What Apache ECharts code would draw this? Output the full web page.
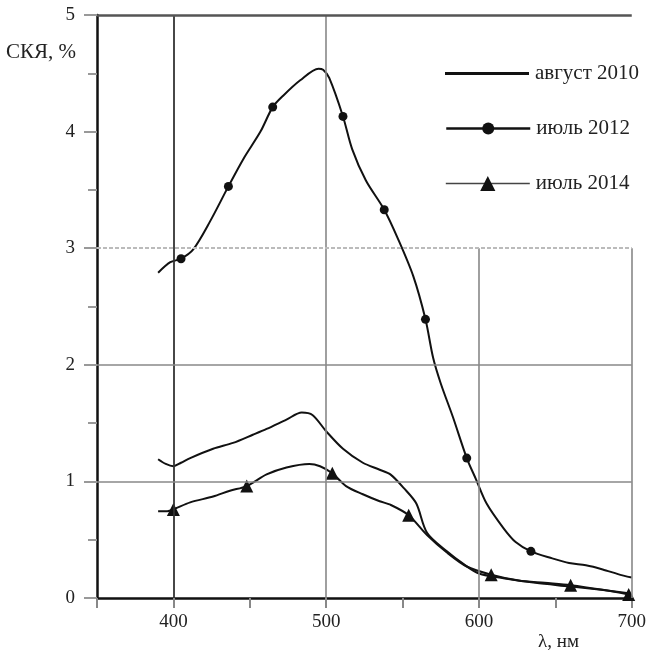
<!DOCTYPE html>
<html>
<head>
<meta charset="utf-8">
<script src="https://cdn.jsdelivr.net/npm/echarts@6/dist/echarts.min.js"></script>
<style>
html,body{margin:0;padding:0;background:#fff;}
#chart{width:649px;height:655px;}
</style>
</head>
<body>
<div id="chart"></div>
<script>
// ---- data ----
const seriesNames = ['август 2010', 'июль 2012', 'июль 2014'];

const wl2010 = [390, 395, 400, 405, 411, 426, 439, 452, 461, 474, 484, 491, 500, 511, 524, 535, 542, 551, 559, 566, 579, 590, 600, 616, 637, 659, 680, 698];
const val2010 = [1.19, 1.15, 1.13, 1.16, 1.20, 1.28, 1.33, 1.40, 1.45, 1.53, 1.59, 1.57, 1.43, 1.28, 1.16, 1.10, 1.06, 0.94, 0.81, 0.56, 0.40, 0.29, 0.21, 0.17, 0.13, 0.10, 0.07, 0.04];

const wl2012 = [390, 398, 405, 413, 424, 436, 446, 457, 465, 472, 483, 495, 498, 502, 511, 517, 526, 538, 547, 557, 565, 570, 575, 583, 592, 598, 605, 616, 624, 634, 648, 659, 670, 681, 691, 700];
const val2012 = [2.79, 2.88, 2.91, 2.99, 3.23, 3.53, 3.77, 4.00, 4.21, 4.31, 4.44, 4.54, 4.53, 4.46, 4.13, 3.85, 3.58, 3.33, 3.08, 2.76, 2.39, 2.06, 1.84, 1.55, 1.20, 1.02, 0.81, 0.60, 0.48, 0.40, 0.34, 0.30, 0.28, 0.245, 0.205, 0.175];
const markers2012 = [405, 436, 465, 511, 538, 565, 592, 634];

const wl2014 = [390, 396, 400, 411, 426, 437, 448, 461, 474, 489, 496, 504, 513, 524, 535, 542, 554, 566, 579, 592, 608, 626, 643, 660, 681, 698];
const val2014 = [0.745, 0.745, 0.76, 0.82, 0.87, 0.92, 0.96, 1.06, 1.12, 1.15, 1.13, 1.07, 0.96, 0.89, 0.83, 0.80, 0.71, 0.54, 0.39, 0.27, 0.20, 0.15, 0.13, 0.11, 0.07, 0.03];
const markers2014 = [400, 448, 504, 554, 608, 660, 698];

const xTicks = [400, 500, 600, 700];
const yGrid = [1, 2, 3, 5];
const xName = 'λ, нм';
const yName = 'СКЯ, %';

// ---- build ----
function build(wl, vals, markers) {
  return wl.map((x, i) => {
    const item = { value: [x, vals[i]] };
    if (!markers || markers.indexOf(x) < 0) item.symbol = 'none';
    return item;
  });
}
const FONT = '"Liberation Serif", "Times New Roman", serif';
const lineStyle = { color: '#111', width: 2 };
const grey = { color: '#888', width: 1.6, type: 'solid' };

const chart = echarts.init(document.getElementById('chart'));
chart.setOption({
  animation: false,
  backgroundColor: '#fff',
  grid: { left: 97, right: 14, top: 15, bottom: 57 },
  xAxis: {
    type: 'value', min: 350, max: 700, interval: 50,
    axisLine: { lineStyle: { color: '#111', width: 2.5 } },
    axisTick: { show: true, length: 10, lineStyle: { color: '#888', width: 2 } },
    axisLabel: { formatter: v => (v % 100 === 0 ? String(v) : ''), fontFamily: FONT, fontSize: 19, color: '#222', margin: 15 },
    splitLine: { show: false }
  },
  yAxis: {
    type: 'value', min: 0, max: 5, interval: 1,
    axisLine: { show: true, lineStyle: { color: '#111', width: 2.5 } },
    axisTick: { show: true, length: 13, lineStyle: { color: '#999', width: 2 } },
    minorTick: { show: true, splitNumber: 2, length: 9, lineStyle: { color: '#999', width: 2 } },
    axisLabel: { fontFamily: FONT, fontSize: 19, color: '#222', margin: 22 },
    splitLine: { show: false }
  },
  legend: [
    {
      data: [{ name: seriesNames[0], icon: 'rect', itemStyle: { color: '#111' } }],
      left: 440, top: 58, itemWidth: 84, itemHeight: 3
    },
    {
      data: [{ name: seriesNames[1], lineStyle: { color: '#111', width: 2.5 } }],
      left: 440, top: 113, itemWidth: 84, itemHeight: 15
    },
    {
      data: [{ name: seriesNames[2], lineStyle: { color: '#444', width: 1.6 } }],
      left: 440, top: 168, itemWidth: 84, itemHeight: 19
    }
  ].map(l => Object.assign(l, {
    selectedMode: false,
    textStyle: { fontFamily: FONT, fontSize: 21, color: '#222', padding: [0, 0, 0, 1] }
  })),
  graphic: [
    { type: 'text', left: 6, top: 42, style: { text: yName, font: '21px ' + FONT, fill: '#222' } },
    { type: 'text', left: 538, top: 633, style: { text: xName, font: '19px ' + FONT, fill: '#222' } }
  ],
  series: [
    {
      name: 'grid', type: 'line', data: [], silent: true, z: 1,
      markLine: {
        silent: true, symbol: 'none', label: { show: false }, animation: false,
        data: [
          { xAxis: xTicks[0], lineStyle: { color: '#333', width: 1.8, type: 'solid' } },
          { xAxis: xTicks[1], lineStyle: grey },
          [{ coord: [xTicks[2], 0], lineStyle: grey }, { coord: [xTicks[2], yGrid[2]] }],
          [{ coord: [xTicks[3], 0], lineStyle: grey }, { coord: [xTicks[3], yGrid[2]] }],
          { yAxis: yGrid[0], lineStyle: grey },
          { yAxis: yGrid[1], lineStyle: grey },
          { yAxis: yGrid[2], lineStyle: { color: '#bbb', width: 2, type: [4, 2] } },
          { yAxis: yGrid[3], lineStyle: { color: '#555', width: 2.5, type: 'solid' } }
        ]
      }
    },
    {
      name: seriesNames[0], type: 'line', smooth: 0.3, z: 3,
      symbol: 'none', showSymbol: false,
      lineStyle: lineStyle, itemStyle: { color: '#111' },
      data: build(wl2010, val2010, null)
    },
    {
      name: seriesNames[1], type: 'line', smooth: 0.3, z: 3,
      symbol: 'circle', symbolSize: 9, showSymbol: true,
      lineStyle: lineStyle, itemStyle: { color: '#111' },
      data: build(wl2012, val2012, markers2012)
    },
    {
      name: seriesNames[2], type: 'line', smooth: 0.3, z: 3,
      symbol: 'triangle', symbolSize: 13, showSymbol: true,
      lineStyle: lineStyle, itemStyle: { color: '#111' },
      data: build(wl2014, val2014, markers2014)
    }
  ]
});
</script>
</body>
</html>
